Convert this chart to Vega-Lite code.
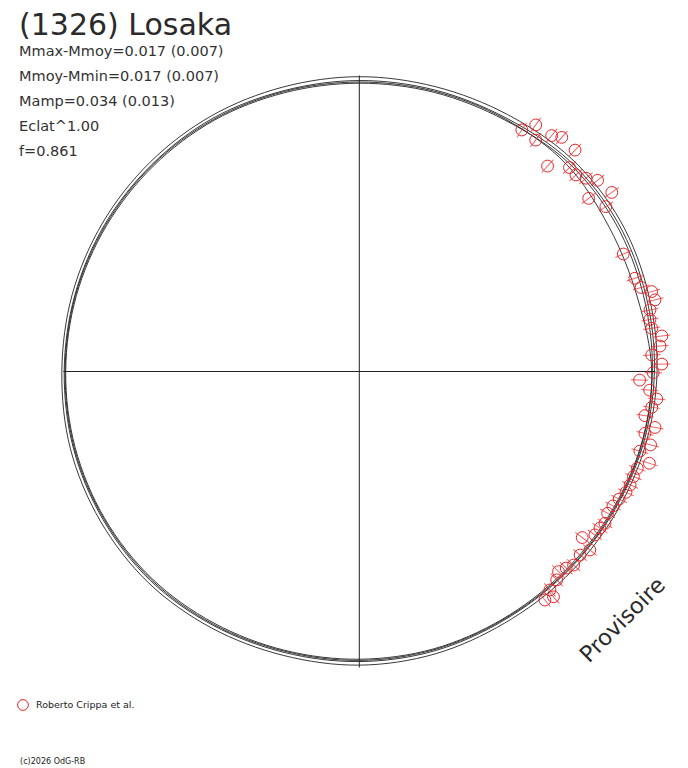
{
  "$schema": "https://vega.github.io/schema/vega-lite/v6.json",
  "width": 688,
  "height": 768,
  "padding": 0,
  "autosize": {"type": "none"},
  "background": "white",
  "config": {"view": {"stroke": null}, "font": "DejaVu Sans"},
  "title": {
    "text": "(1326) Losaka",
    "subtitle": ["Mmax-Mmoy=0.017 (0.007)", "Mmoy-Mmin=0.017 (0.007)", "Mamp=0.034 (0.013)", "Eclat^1.00", "f=0.861"],
    "anchor": "start",
    "frame": "group",
    "orient": "top",
    "offset": -158,
    "dx": 19,
    "font": "DejaVu Sans",
    "fontSize": 30,
    "fontWeight": "normal",
    "color": "#2a2a2a",
    "subtitleFont": "DejaVu Sans",
    "subtitleFontSize": 14.5,
    "subtitleColor": "#333333",
    "subtitleLineHeight": 25,
    "subtitlePadding": 4
  },
  "datasets": {
    "curves": [
      {"curve": "A", "i": 0, "x": 0.997, "y": 0},
      {"curve": "A", "i": 1, "x": 0.968, "y": 0.259},
      {"curve": "A", "i": 2, "x": 0.873, "y": 0.504},
      {"curve": "A", "i": 3, "x": 0.711, "y": 0.711},
      {"curve": "A", "i": 4, "x": 0.495, "y": 0.857},
      {"curve": "A", "i": 5, "x": 0.255, "y": 0.951},
      {"curve": "A", "i": 6, "x": 0, "y": 0.983},
      {"curve": "A", "i": 7, "x": -0.254, "y": 0.949},
      {"curve": "A", "i": 8, "x": -0.494, "y": 0.856},
      {"curve": "A", "i": 9, "x": -0.700, "y": 0.700},
      {"curve": "A", "i": 10, "x": -0.860, "y": 0.497},
      {"curve": "A", "i": 11, "x": -0.961, "y": 0.258},
      {"curve": "A", "i": 12, "x": -0.997, "y": 0},
      {"curve": "A", "i": 13, "x": -0.966, "y": -0.259},
      {"curve": "A", "i": 14, "x": -0.866, "y": -0.500},
      {"curve": "A", "i": 15, "x": -0.706, "y": -0.706},
      {"curve": "A", "i": 16, "x": -0.495, "y": -0.857},
      {"curve": "A", "i": 17, "x": -0.254, "y": -0.949},
      {"curve": "A", "i": 18, "x": 0, "y": -0.980},
      {"curve": "A", "i": 19, "x": 0.253, "y": -0.944},
      {"curve": "A", "i": 20, "x": 0.486, "y": -0.842},
      {"curve": "A", "i": 21, "x": 0.689, "y": -0.689},
      {"curve": "A", "i": 22, "x": 0.849, "y": -0.490},
      {"curve": "A", "i": 23, "x": 0.956, "y": -0.256},
      {"curve": "B", "i": 0, "x": 1.006, "y": 0},
      {"curve": "B", "i": 1, "x": 0.977, "y": 0.262},
      {"curve": "B", "i": 2, "x": 0.882, "y": 0.509},
      {"curve": "B", "i": 3, "x": 0.718, "y": 0.718},
      {"curve": "B", "i": 4, "x": 0.501, "y": 0.868},
      {"curve": "B", "i": 5, "x": 0.258, "y": 0.962},
      {"curve": "B", "i": 6, "x": 0, "y": 0.996},
      {"curve": "B", "i": 7, "x": -0.258, "y": 0.961},
      {"curve": "B", "i": 8, "x": -0.499, "y": 0.864},
      {"curve": "B", "i": 9, "x": -0.707, "y": 0.707},
      {"curve": "B", "i": 10, "x": -0.868, "y": 0.501},
      {"curve": "B", "i": 11, "x": -0.970, "y": 0.260},
      {"curve": "B", "i": 12, "x": -1.005, "y": 0},
      {"curve": "B", "i": 13, "x": -0.976, "y": -0.261},
      {"curve": "B", "i": 14, "x": -0.875, "y": -0.505},
      {"curve": "B", "i": 15, "x": -0.713, "y": -0.713},
      {"curve": "B", "i": 16, "x": -0.500, "y": -0.866},
      {"curve": "B", "i": 17, "x": -0.257, "y": -0.959},
      {"curve": "B", "i": 18, "x": 0, "y": -0.992},
      {"curve": "B", "i": 19, "x": 0.256, "y": -0.954},
      {"curve": "B", "i": 20, "x": 0.491, "y": -0.850},
      {"curve": "B", "i": 21, "x": 0.696, "y": -0.696},
      {"curve": "B", "i": 22, "x": 0.857, "y": -0.495},
      {"curve": "B", "i": 23, "x": 0.964, "y": -0.258},
      {"curve": "C", "i": 0, "x": 0.990, "y": 0},
      {"curve": "C", "i": 1, "x": 0.960, "y": 0.257},
      {"curve": "C", "i": 2, "x": 0.866, "y": 0.500},
      {"curve": "C", "i": 3, "x": 0.706, "y": 0.706},
      {"curve": "C", "i": 4, "x": 0.491, "y": 0.850},
      {"curve": "C", "i": 5, "x": 0.253, "y": 0.943},
      {"curve": "C", "i": 6, "x": 0, "y": 0.974},
      {"curve": "C", "i": 7, "x": -0.252, "y": 0.942},
      {"curve": "C", "i": 8, "x": -0.490, "y": 0.849},
      {"curve": "C", "i": 9, "x": -0.695, "y": 0.695},
      {"curve": "C", "i": 10, "x": -0.854, "y": 0.493},
      {"curve": "C", "i": 11, "x": -0.956, "y": 0.256},
      {"curve": "C", "i": 12, "x": -0.992, "y": 0},
      {"curve": "C", "i": 13, "x": -0.960, "y": -0.257},
      {"curve": "C", "i": 14, "x": -0.860, "y": -0.497},
      {"curve": "C", "i": 15, "x": -0.700, "y": -0.700},
      {"curve": "C", "i": 16, "x": -0.491, "y": -0.850},
      {"curve": "C", "i": 17, "x": -0.252, "y": -0.942},
      {"curve": "C", "i": 18, "x": 0, "y": -0.972},
      {"curve": "C", "i": 19, "x": 0.251, "y": -0.937},
      {"curve": "C", "i": 20, "x": 0.483, "y": -0.837},
      {"curve": "C", "i": 21, "x": 0.684, "y": -0.684},
      {"curve": "C", "i": 22, "x": 0.843, "y": -0.487},
      {"curve": "C", "i": 23, "x": 0.950, "y": -0.255},
      {"curve": "D", "i": 0, "x": 0.988, "y": 0},
      {"curve": "D", "i": 1, "x": 0.939, "y": 0.252},
      {"curve": "D", "i": 2, "x": 0.844, "y": 0.488},
      {"curve": "D", "i": 3, "x": 0.700, "y": 0.700},
      {"curve": "D", "i": 4, "x": 0.493, "y": 0.853},
      {"curve": "D", "i": 5, "x": 0.254, "y": 0.947},
      {"curve": "D", "i": 6, "x": 0, "y": 0.978},
      {"curve": "D", "i": 7, "x": -0.253, "y": 0.946},
      {"curve": "D", "i": 8, "x": -0.492, "y": 0.852},
      {"curve": "D", "i": 9, "x": -0.698, "y": 0.698},
      {"curve": "D", "i": 10, "x": -0.857, "y": 0.495},
      {"curve": "D", "i": 11, "x": -0.959, "y": 0.257},
      {"curve": "D", "i": 12, "x": -0.994, "y": 0},
      {"curve": "D", "i": 13, "x": -0.963, "y": -0.258},
      {"curve": "D", "i": 14, "x": -0.863, "y": -0.498},
      {"curve": "D", "i": 15, "x": -0.703, "y": -0.703},
      {"curve": "D", "i": 16, "x": -0.493, "y": -0.854},
      {"curve": "D", "i": 17, "x": -0.253, "y": -0.945},
      {"curve": "D", "i": 18, "x": 0, "y": -0.976},
      {"curve": "D", "i": 19, "x": 0.252, "y": -0.940},
      {"curve": "D", "i": 20, "x": 0.485, "y": -0.839},
      {"curve": "D", "i": 21, "x": 0.687, "y": -0.687},
      {"curve": "D", "i": 22, "x": 0.846, "y": -0.489},
      {"curve": "D", "i": 23, "x": 0.952, "y": -0.255}
    ],
    "points": [
      {"x": 0.549, "y": 0.816}, {"x": 0.596, "y": 0.833}, {"x": 0.596, "y": 0.782},
      {"x": 0.650, "y": 0.797}, {"x": 0.684, "y": 0.791}, {"x": 0.729, "y": 0.748},
      {"x": 0.636, "y": 0.694}, {"x": 0.710, "y": 0.689}, {"x": 0.732, "y": 0.664},
      {"x": 0.766, "y": 0.653}, {"x": 0.805, "y": 0.646}, {"x": 0.853, "y": 0.605},
      {"x": 0.775, "y": 0.585}, {"x": 0.833, "y": 0.557}, {"x": 0.892, "y": 0.397},
      {"x": 0.931, "y": 0.315}, {"x": 0.952, "y": 0.284}, {"x": 0.988, "y": 0.270},
      {"x": 0.999, "y": 0.242}, {"x": 0.982, "y": 0.208}, {"x": 0.982, "y": 0.176},
      {"x": 0.988, "y": 0.146}, {"x": 1.022, "y": 0.120}, {"x": 1.016, "y": 0.086},
      {"x": 0.988, "y": 0.056}, {"x": 1.022, "y": 0.025}, {"x": 0.993, "y": -0.004},
      {"x": 0.947, "y": -0.029}, {"x": 0.981, "y": -0.063}, {"x": 1.005, "y": -0.093},
      {"x": 0.988, "y": -0.121}, {"x": 0.965, "y": -0.149}, {"x": 0.999, "y": -0.189},
      {"x": 0.965, "y": -0.209}, {"x": 0.984, "y": -0.248}, {"x": 0.948, "y": -0.269},
      {"x": 0.980, "y": -0.310}, {"x": 0.939, "y": -0.327}, {"x": 0.926, "y": -0.355},
      {"x": 0.915, "y": -0.383}, {"x": 0.901, "y": -0.408}, {"x": 0.878, "y": -0.431},
      {"x": 0.857, "y": -0.454}, {"x": 0.839, "y": -0.479}, {"x": 0.830, "y": -0.513},
      {"x": 0.813, "y": -0.529}, {"x": 0.796, "y": -0.552}, {"x": 0.753, "y": -0.561},
      {"x": 0.779, "y": -0.603}, {"x": 0.746, "y": -0.620}, {"x": 0.724, "y": -0.654},
      {"x": 0.699, "y": -0.664}, {"x": 0.673, "y": -0.676}, {"x": 0.667, "y": -0.704},
      {"x": 0.644, "y": -0.738}, {"x": 0.656, "y": -0.761}, {"x": 0.627, "y": -0.772}
    ]
  },
  "layer": [
    {
      "data": {"values": [{}]},
      "mark": {"type": "rule", "color": "#222222", "strokeWidth": 1},
      "encoding": {
        "x": {"datum": -1, "type": "quantitative", "scale": {"domain": [-1.2139, 1.1105], "nice": false, "zero": false}, "axis": null},
        "x2": {"datum": 1},
        "y": {"datum": 0, "type": "quantitative", "scale": {"domain": [-1.3395, 1.2551], "nice": false, "zero": false}, "axis": null}
      }
    },
    {
      "data": {"values": [{}]},
      "mark": {"type": "rule", "color": "#222222", "strokeWidth": 1},
      "encoding": {
        "x": {"datum": 0, "type": "quantitative", "axis": null},
        "y": {"datum": -1, "type": "quantitative", "axis": null},
        "y2": {"datum": 1}
      }
    },
    {
      "data": {"name": "curves"},
      "mark": {"type": "line", "interpolate": "cardinal-closed", "color": "#222222", "strokeWidth": 0.9},
      "encoding": {
        "x": {"field": "x", "type": "quantitative", "axis": null},
        "y": {"field": "y", "type": "quantitative", "axis": null},
        "detail": {"field": "curve", "type": "nominal"},
        "order": {"field": "i", "type": "quantitative"}
      }
    },
    {
      "data": {"name": "points"},
      "transform": [{"calculate": "90 - atan2(datum.y, datum.x) * 180 / PI", "as": "ang"}],
      "mark": {"type": "point", "shape": "M0,-1L0,1", "filled": false, "size": 300, "color": "#e8262a", "strokeWidth": 1},
      "encoding": {
        "x": {"field": "x", "type": "quantitative", "axis": null},
        "y": {"field": "y", "type": "quantitative", "axis": null},
        "angle": {"field": "ang", "type": "quantitative", "scale": null}
      }
    },
    {
      "data": {"name": "points"},
      "mark": {"type": "point", "shape": "circle", "filled": false, "size": 140, "strokeWidth": 1, "opacity": 1},
      "encoding": {
        "x": {"field": "x", "type": "quantitative", "axis": null},
        "y": {"field": "y", "type": "quantitative", "axis": null},
        "color": {
          "datum": "Roberto Crippa et al.",
          "type": "nominal",
          "scale": {"range": ["#e8262a"]},
          "legend": {
            "orient": "none",
            "legendX": 17,
            "legendY": 699,
            "title": null,
            "padding": 0,
            "symbolSize": 115,
            "symbolStrokeWidth": 1,
            "labelFont": "DejaVu Sans",
            "labelFontSize": 9.5,
            "labelColor": "#222222",
            "labelOffset": 7
          }
        }
      }
    },
    {
      "data": {"values": [{}]},
      "mark": {"type": "text", "text": "Provisoire", "angle": -45, "font": "DejaVu Sans", "fontSize": 22.5, "color": "#2a2a2a", "align": "center", "baseline": "middle"},
      "encoding": {
        "x": {"datum": 0.89, "type": "quantitative"},
        "y": {"datum": -0.84, "type": "quantitative"}
      }
    },
    {
      "data": {"values": [{}]},
      "mark": {"type": "text", "text": "(c)2026 OdG-RB", "font": "DejaVu Sans", "fontSize": 8, "color": "#222222", "align": "left", "baseline": "middle"},
      "encoding": {
        "x": {"datum": -1.146, "type": "quantitative"},
        "y": {"datum": -1.319, "type": "quantitative"}
      }
    }
  ]
}
